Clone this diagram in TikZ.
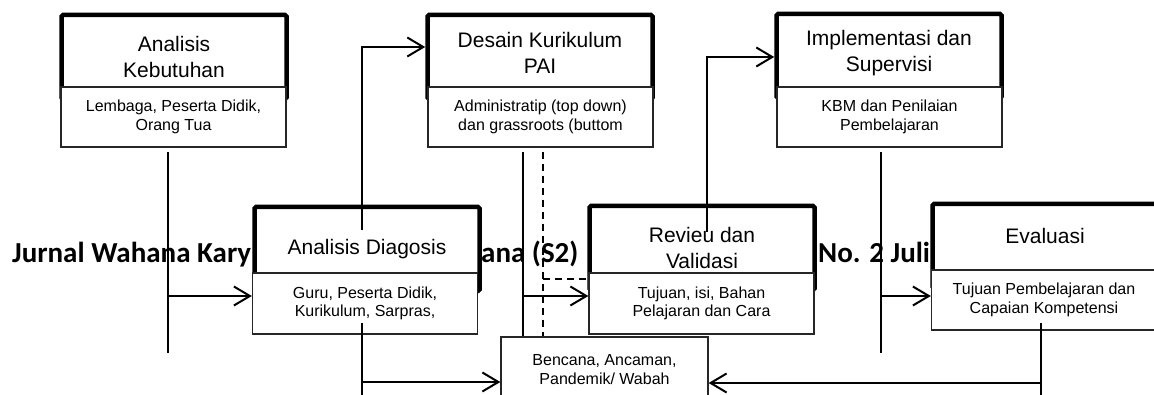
\documentclass[tikz,border=0pt]{standalone}
\usepackage{fontspec}
\setmainfont{Liberation Sans}
\newfontfamily\headfont{Carlito}
\usetikzlibrary{arrows.meta}
\tikzstyle{stage} = [rectangle, rounded corners=1.5pt, minimum width=225pt, minimum height=84pt, inner sep=0pt, align=center, draw=black, fill=white, line width=4.5pt, font=\fontsize{21}{25.5}\selectfont]
\tikzstyle{detail} = [rectangle, minimum width=225pt, minimum height=60pt, inner sep=0pt, align=center, draw=black!85, fill=white, line width=1.3pt, font=\fontsize{16}{18.5}\selectfont]
\tikzstyle{header} = [anchor=base west, inner sep=0pt, font=\headfont\bfseries\fontsize{29}{32}\selectfont]
\tikzstyle{link} = [line width=2pt]
\tikzstyle{dashlink} = [line width=1.6pt, dash pattern=on 7pt off 5pt]
\tikzstyle{arrow} = [line width=2pt, ->, >={Straight Barb[length=16pt, width=19pt]}]
\begin{document}
\begin{tikzpicture}[x=1pt, y=-1pt]
\useasboundingbox (0,0) rectangle (1154,395);

% --- Header text behind the chart ---
\node (jurnal) [header] at (12,263) {Jurnal Wahana Kary};
\node (jenjang) [header] at (481,263) {ana (S2)};
\node (nomor) [header] at (818,263) {No. 2 Juli};

% --- Top row ---
\node (kebutuhan) [stage] at (174,57) {Analisis\\Kebutuhan};
\node (kebutuhanDet) [detail] at (173.5,117) {Lembaga, Peserta Didik,\\Orang Tua};
\node (desain) [stage, text depth=8pt] at (540,57) {Desain Kurikulum\\PAI};
\node (desainDet) [detail] at (540.5,117) {Administratip (top down)\\dan grassroots (buttom};
\node (implementasi) [stage, text depth=10pt] at (889,56) {Implementasi dan\\Supervisi};
\node (implementasiDet) [detail] at (889.5,117) {KBM dan Penilaian\\Pembelajaran};

% --- Bottom row ---
\node (diagnosis) [stage] at (367,249) {Analisis Diagosis};
\node (diagnosisDet) [detail, minimum height=61pt] at (365,303.5) {Guru, Peserta Didik,\\Kurikulum, Sarpras,};
\node (revieu) [stage] at (702,248) {Revieu dan\\Validasi};
\node (revieuDet) [detail, minimum height=61pt] at (701.5,303.5) {Tujuan, isi, Bahan\\Pelajaran dan Cara};
\node (evaluasi) [stage, text depth=20pt] at (1045,246) {Evaluasi};
\node (evaluasiDet) [detail] at (1044,300) {Tujuan Pembelajaran dan\\Capaian Kompetensi};
\node (bencana) [detail, minimum width=207pt, minimum height=65pt] at (604.5,369.5) {Bencana, Ancaman,\\Pandemik/ Wabah};

% --- Connectors ---
\coordinate (kTop) at (168,152);
\coordinate (kEnd) at (168,353);
\coordinate (kJoin) at (168,296);
\draw [link] (kTop) -- (kEnd);
\draw [arrow] (kJoin) -- (kJoin -| diagnosisDet.west);

\coordinate (dUp) at (362,230);
\draw [arrow] (dUp) |- ([yshift=10pt]desain.west);

\coordinate (dDown) at (362,323);
\coordinate (dEnd) at (362,400);
\coordinate (dJoin) at (362,382);
\draw [link] (dDown) -- (dEnd);
\draw [arrow] (dJoin) -- (dJoin -| bencana.west);

\coordinate (sTop) at (523,152);
\coordinate (sJoin) at (523,296);
\draw [link] (sTop) -- (sTop |- bencana.north);
\draw [arrow] (sJoin) -- (sJoin -| revieuDet.west);

\coordinate (qTop) at (543,152);
\coordinate (qJoin) at (543,279);
\draw [dashlink] (qTop) -- (qTop |- bencana.north);
\draw [dashlink] (qJoin) -- (qJoin -| revieu.west);

\coordinate (rUp) at (707,232);
\draw [arrow] (rUp) |- ([yshift=-1pt]implementasi.west);

\coordinate (iTop) at (881,152);
\coordinate (iEnd) at (881,353);
\coordinate (iJoin) at (881,296);
\draw [link] (iTop) -- (iEnd);
\draw [arrow] (iJoin) -- (iJoin -| evaluasiDet.west);

\coordinate (eDown) at (1041,323);
\coordinate (eEnd) at (1041,400);
\coordinate (eJoin) at (1041,383);
\draw [link] (eDown) -- (eEnd);
\draw [arrow] (eJoin) -- (eJoin -| bencana.east);

\end{tikzpicture}
\end{document}
